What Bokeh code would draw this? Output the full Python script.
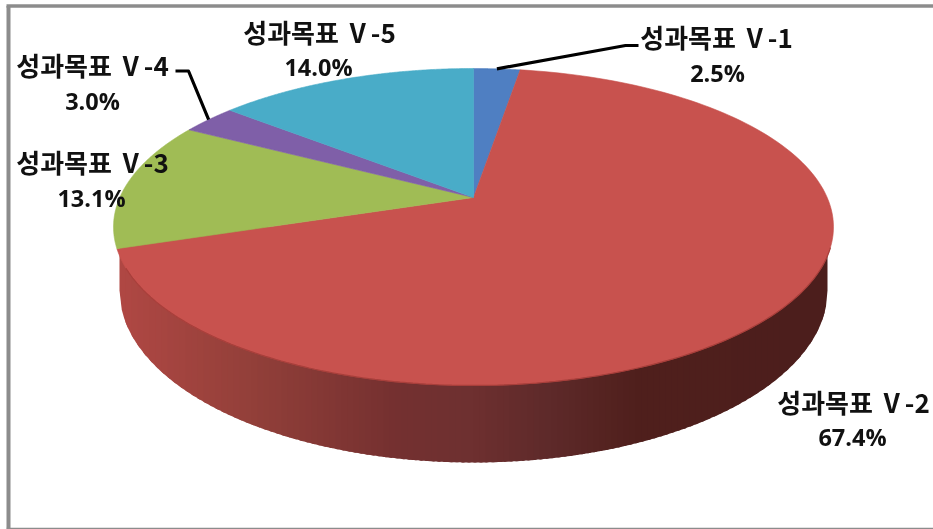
import numpy as np
from bokeh.plotting import figure
from bokeh.models import Range1d
from bokeh.core.properties import value
from bokeh.embed import file_html
from bokeh.resources import INLINE

# ---- data ----
names = ["성과목표 Ⅴ-1", "성과목표 Ⅴ-2", "성과목표 Ⅴ-3", "성과목표 Ⅴ-4", "성과목표 Ⅴ-5"]
shares = [2.5, 67.4, 13.1, 3.0, 14.0]
# ---- styles and layout ----
colors = ["#4F7FC2", "#C8524E", "#A0BC55", "#7F5FA8", "#49ACC8"]
name_xy = [(716, 36), (853, 401), (92, 161), (92, 64), (319, 31)]
share_xy = [(717, 72), (852, 436), (91, 197), (92, 100), (318, 66)]
leaders = {0: [(625, 45), (638, 45)], 3: [(188, 70.5), (175, 70.5)]}
W, H = 933, 529
HUB_X, HUB_Y, SCALE_X, SCALE_Y, PERSP = 473, 197, 353.7, 153.0, 0.186
RIM_RX, RIM_RY, RIM_CY, TOP_CY = 354, 172, 290, 226.5
WALL_X = [119, 250, 400, 473, 550, 633, 827]
WALL_R = [0xB0, 0x93, 0x74, 0x6E, 0x5E, 0x50, 0x4C]
WALL_G = [0x48, 0x40, 0x30, 0x30, 0x2A, 0x20, 0x1E]
WALL_B = [0x44, 0x3A, 0x30, 0x30, 0x2A, 0x1D, 0x1C]
FRAME = "#8C8C8C"


def project(turn):
    """Fraction of the circle, clockwise from 12 o'clock, to page position."""
    t = 2 * np.pi * np.asarray(turn, dtype=float)
    w = 1 + PERSP * np.cos(t)
    return HUB_X + SCALE_X * np.sin(t) / w, HUB_Y - SCALE_Y * np.cos(t) / w


def rim_y(x):
    return RIM_CY + RIM_RY * np.sqrt(np.clip(1 - ((x - HUB_X) / RIM_RX) ** 2, 0, 1))


p = figure(width=W, height=H, x_range=Range1d(0, W), y_range=Range1d(H, 0),
           output_backend="svg", toolbar_location=None, min_border=0,
           background_fill_color="white", border_fill_color="white",
           outline_line_color=None,
           styles={"position": "fixed", "left": "0px", "top": "0px"})
p.axis.visible = False
p.grid.visible = False

# side wall: overlapping vertical strips, painted left to right, coloured by position
edges = np.linspace(HUB_X - RIM_RX, HUB_X + RIM_RX, 119)
xs_w, ys_w, cs_w = [], [], []
for a, b in zip(edges[:-1], edges[1:]):
    run = np.linspace(a, min(b + 3, edges[-1]), 5)
    m = (a + b) / 2
    rgb = [int(np.interp(m, WALL_X, c)) for c in (WALL_R, WALL_G, WALL_B)]
    xs_w.append([run[0], *run, run[-1]])
    ys_w.append([TOP_CY, *rim_y(run), TOP_CY])
    cs_w.append("#%02X%02X%02X" % tuple(rgb))
p.patches(xs_w, ys_w, fill_color=cs_w, line_color=None)

# top face
cum = np.cumsum([0] + shares) / sum(shares)
for i, col in enumerate(colors):
    x, y = project(np.linspace(cum[i], cum[i + 1], 160))
    p.patch([HUB_X, *x], [HUB_Y, *y], fill_color=col, line_color=col, line_width=0.6)

# darker seam where the red top meets the wall
seam_x, seam_y = project(np.linspace(0.30, 0.68, 160))
p.line(seam_x, seam_y, line_color="#A83F3B", line_width=1.2)

# leader lines from the slice mid-points
for i, pts in leaders.items():
    sx, sy = project((cum[i] + cum[i + 1]) / 2)
    p.line([float(sx)] + [q[0] for q in pts], [float(sy)] + [q[1] for q in pts],
           line_color="black", line_width=3.2, line_join="round")

# labels
p.text([q[0] for q in name_xy], [q[1] for q in name_xy], text=names,
       text_font=value("Noto Sans CJK KR"), text_font_style="bold", text_font_size="26px",
       text_align="center", text_baseline="middle", text_color="#111111")
p.text([q[0] for q in share_xy], [q[1] for q in share_xy],
       text=["%.1f%%" % v for v in shares],
       text_font=value("Open Sans"), text_font_style="bold", text_font_size="23.5px",
       text_align="center", text_baseline="middle", text_color="#111111")

# picture frame
p.line([8, 8], [5.5, 528], line_color=FRAME, line_width=4)
p.line([6, W], [5.5, 5.5], line_color=FRAME, line_width=3.5)
p.line([6, W], [528, 528], line_color=FRAME, line_width=1.5)

open("out.html", "w").write(file_html(p, INLINE))
